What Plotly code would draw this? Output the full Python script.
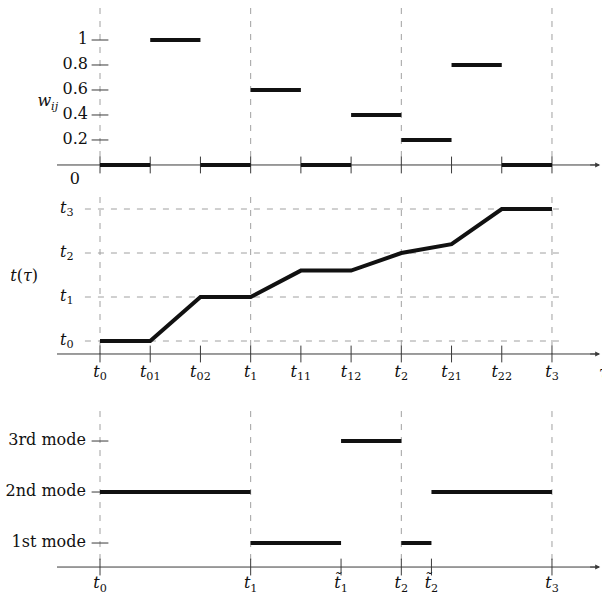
import plotly.graph_objects as go

# ---------------- data ----------------
tau_pos = [0, 1, 2, 3, 4, 5, 6, 7, 8, 9]
tau_labels = ["<i>t</i><sub>0</sub>", "<i>t</i><sub>01</sub>", "<i>t</i><sub>02</sub>", "<i>t</i><sub>1</sub>",
              "<i>t</i><sub>11</sub>", "<i>t</i><sub>12</sub>", "<i>t</i><sub>2</sub>", "<i>t</i><sub>21</sub>",
              "<i>t</i><sub>22</sub>", "<i>t</i><sub>3</sub>"]
w_values = [0, 1, 0, 0.6, 0, 0.4, 0.2, 0.8, 0]          # weight on each interval
w_ticks = [0.2, 0.4, 0.6, 0.8, 1]
w_tick_labels = ["0.2", "0.4", "0.6", "0.8", "1"]
t_curve = [0, 0, 1, 1, 1.6, 1.6, 2, 2.2, 3, 3]           # t(tau) at tau_pos
t_levels = [0, 1, 2, 3]
t_level_labels = ["<i>t</i><sub>0</sub>", "<i>t</i><sub>1</sub>", "<i>t</i><sub>2</sub>", "<i>t</i><sub>3</sub>"]
main_pos = [0, 3, 6, 9]                                   # t0, t1, t2, t3
mode_breaks = [0, 3, 4.8, 6, 6.6, 9]
mode_values = [2, 1, 3, 1, 2]
bottom_ticks = [0, 3, 4.8, 6, 6.6, 9]
bottom_labels = ["<i>t</i><sub>0</sub>", "<i>t</i><sub>1</sub>", "<i>t\u0303</i><sub>1</sub>",
                 "<i>t</i><sub>2</sub>", "<i>t\u0303</i><sub>2</sub>", "<i>t</i><sub>3</sub>"]
mode_ticks = [1, 2, 3]
mode_labels = ["1st mode", "2nd mode", "3rd mode"]

# ---------------- style ----------------
FONT = "DejaVu Serif"
FS = 16
AX = "#3a3a3a"
DASH = "#a0a0a0"
DASHPAT = "6px,7px"
THICK = "#111111"
AX_START, AX_END = -0.856, 9.93

fig = go.Figure()

def seg_trace(xs, ys, yaxis, color, width, dash=None):
    return go.Scatter(x=xs, y=ys, yaxis=yaxis, mode="lines", hoverinfo="skip", showlegend=False,
                      line=dict(color=color, width=width, dash=dash))

def vdashes(positions, y0, y1, yaxis):
    xs, ys = [], []
    for p in positions:
        xs += [p, p, None]
        ys += [y1, y0, None]
    fig.add_trace(seg_trace(xs, ys, yaxis, DASH, 1, DASHPAT))

def ticks(xs, ys, yaxis, symbol, size):
    fig.add_trace(go.Scatter(x=xs, y=ys, yaxis=yaxis, mode="markers", hoverinfo="skip", showlegend=False,
                             marker=dict(symbol=symbol, size=size, line=dict(color=AX, width=1), color=AX)))

def texts(xs, ys, labels, yaxis, pos="middle center", size=FS):
    fig.add_trace(go.Scatter(x=xs, y=ys, yaxis=yaxis, mode="text", text=labels, textposition=pos,
                             hoverinfo="skip", showlegend=False, cliponaxis=False,
                             textfont=dict(family=FONT, size=size, color="#111")))

def axis_line(y, yaxis):
    fig.add_trace(seg_trace([AX_START, AX_END], [y, y], yaxis, AX, 1))
    fig.add_annotation(x=AX_END + 0.03, y=y, ax=AX_END - 0.2, ay=y, xref="x", yref=yaxis,
                       axref="x", ayref=yaxis, showarrow=True, arrowhead=2, arrowsize=1, arrowwidth=1,
                       arrowcolor=AX, text="")

# ---------------- top panel (y) ----------------
vdashes(main_pos, 0, 1.256, "y")
axis_line(0, "y")
ticks(tau_pos, [0] * len(tau_pos), "y", "line-ns-open", 12)
ticks([0] * len(w_ticks), w_ticks, "y", "line-ew-open", 12)
xs, ys = [], []
for i, w in enumerate(w_values):
    xs += [tau_pos[i], tau_pos[i + 1], None]
    ys += [w, w, None]
fig.add_trace(seg_trace(xs, ys, "y", THICK, 4))
texts([-0.24] * len(w_ticks), w_ticks, w_tick_labels, "y", "middle left")
texts([-0.5], [-0.12], ["0"], "y")
texts([-1.04], [0.5], ["<i>w</i><sub><i>ij</i></sub>"], "y")

# ---------------- middle panel (y2) ----------------
xs, ys = [], []
for lv in t_levels:
    xs += [-0.30, 9.18, None]
    ys += [lv, lv, None]
fig.add_trace(seg_trace(xs, ys, "y2", DASH, 1, DASHPAT))
vdashes(main_pos, -0.295, 3.273, "y2")
axis_line(-0.295, "y2")
ticks(tau_pos, [-0.295] * len(tau_pos), "y2", "line-ns-open", 12)
fig.add_trace(seg_trace(tau_pos, t_curve, "y2", THICK, 4))
texts(tau_pos, [-0.72] * len(tau_pos), tau_labels, "y2")
texts([-0.66] * len(t_levels), t_levels, t_level_labels, "y2")
texts([-1.51], [1.45], ["<i>t</i>(<i>τ</i>)"], "y2")

# ---------------- bottom panel (y3) ----------------
vdashes(main_pos, 0.529, 3.588, "y3")
axis_line(0.529, "y3")
ticks(bottom_ticks, [0.529] * len(bottom_ticks), "y3", "line-ns-open", 12)
ticks([0] * len(mode_ticks), mode_ticks, "y3", "line-ew-open", 12)
xs, ys = [], []
for i, m in enumerate(mode_values):
    xs += [mode_breaks[i], mode_breaks[i + 1], None]
    ys += [m, m, None]
fig.add_trace(seg_trace(xs, ys, "y3", THICK, 4))
texts(bottom_ticks, [0.19] * len(bottom_ticks), bottom_labels, "y3")
texts([-0.28] * len(mode_ticks), mode_ticks, mode_labels, "y3", "middle left")

# tau label partially cut at right edge
fig.add_annotation(x=9.89, y=-0.72, xref="x", yref="y2", text="<i>τ</i>", showarrow=False,
                   xanchor="left", font=dict(family=FONT, size=FS, color="#111"))

hidden = dict(showgrid=False, zeroline=False, showticklabels=False, showline=False, ticks="")
fig.update_layout(
    width=602, height=596, margin=dict(l=0, r=0, t=0, b=0),
    paper_bgcolor="white", plot_bgcolor="white", showlegend=False,
    xaxis=dict(range=[-1.9912, 9.996], domain=[0, 1], **hidden),
    yaxis=dict(range=[-0.184, 1.32], domain=[0.6846, 1], **hidden),
    yaxis2=dict(range=[-1.0, 3.432], domain=[0.3540, 0.6812], anchor="x", **hidden),
    yaxis3=dict(range=[-0.039, 3.902], domain=[0, 0.3372], anchor="x", **hidden),
)
fig.write_html("out.html", config={"displayModeBar": False},
               post_script="document.body.style.margin='0';document.body.style.padding='0';")
